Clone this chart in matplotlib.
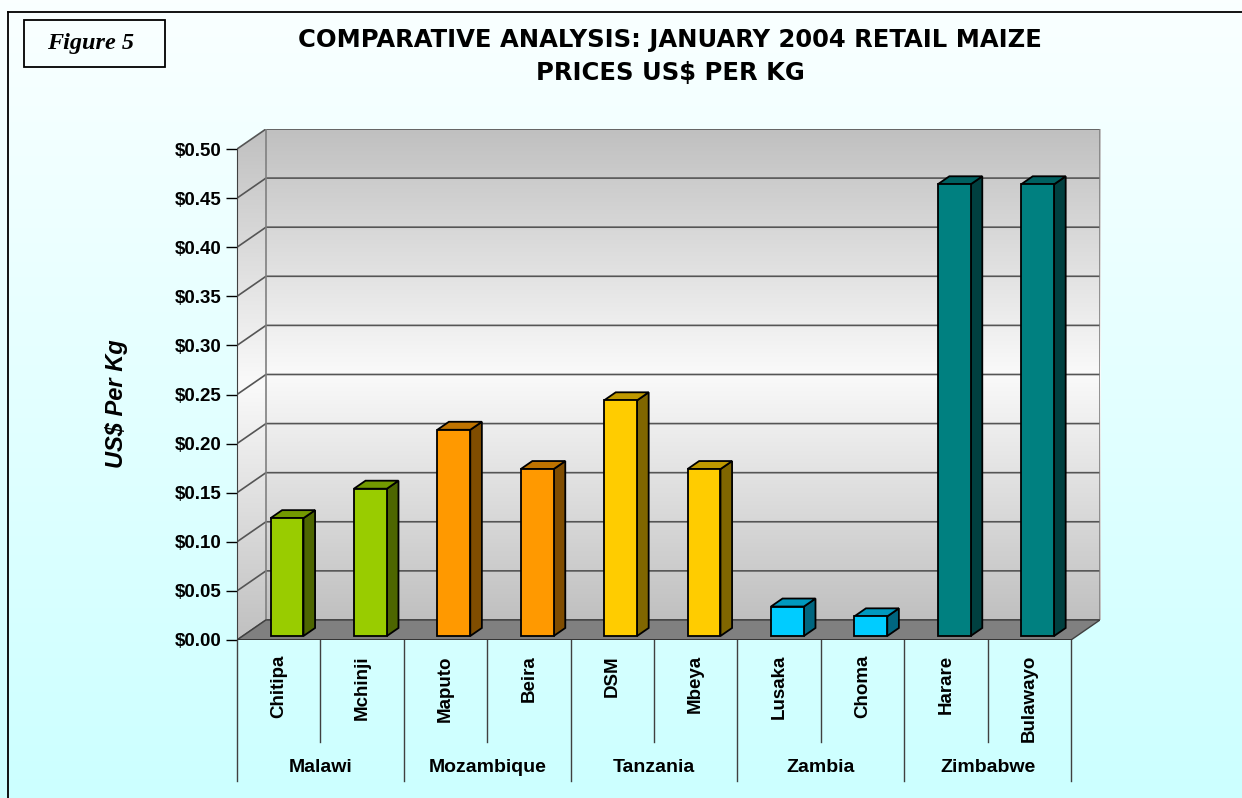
import numpy as np
import matplotlib.pyplot as plt
from matplotlib.patches import Polygon, Rectangle
from matplotlib.colors import to_rgb, LinearSegmentedColormap
from matplotlib.ticker import FuncFormatter

plt.rcParams['font.family'] = ['Liberation Sans', 'DejaVu Sans']

# data
cities = ["Chitipa", "Mchinji", "Maputo", "Beira", "DSM", "Mbeya",
          "Lusaka", "Choma", "Harare", "Bulawayo"]
countries = ["Malawi", "Mozambique", "Tanzania", "Zambia", "Zimbabwe"]
prices = [0.12, 0.15, 0.21, 0.17, 0.24, 0.17, 0.03, 0.02, 0.46, 0.46]
country_colors = ["#99CC00", "#FF9900", "#FFCC00", "#00CCFF", "#008080"]
cities_per_country = 2
y_ticks = np.arange(0, 0.501, 0.05)

W, H = 1242, 798
fig = plt.figure(figsize=(W / 100, H / 100), dpi=100)

# figure background gradient
bg = fig.add_axes([0, 0, 1, 1], zorder=-10)
bg.axis('off')
grad = np.linspace(0, 1, 256).reshape(-1, 1)
bg_cmap = LinearSegmentedColormap.from_list('bg', ['#FAFFFF', '#CCFFFF'])
bg.imshow(grad, cmap=bg_cmap, aspect='auto', extent=[0, 1, 0, 1])
bg.set_xlim(0, 1)
bg.set_ylim(0, 1)
bg.plot([8 / W, 8 / W], [0, 1 - 12 / H], color='black', lw=1.3)
bg.plot([8 / W, 1], [1 - 12 / H, 1 - 12 / H], color='black', lw=1.3)
bg.add_patch(Rectangle((24 / W, 1 - 67 / H), 141 / W, 47 / H, fill=False,
                       ec='black', lw=1.3))
bg.text(91 / W, 1 - 44 / H, "Figure 5", family='Liberation Serif',
        weight='bold', style='italic', size=17.5, ha='center', va='center')

fig.text(670 / W, 1 - 40 / H, "COMPARATIVE ANALYSIS: JANUARY 2004 RETAIL MAIZE",
         ha='center', va='center', size=17.5, weight='bold', family='DejaVu Sans')
fig.text(670 / W, 1 - 73 / H, "PRICES US$ PER KG",
         ha='center', va='center', size=17.5, weight='bold', family='DejaVu Sans')
fig.text(117 / W, 1 - 404 / H, "US$ Per Kg", rotation=90, ha='center',
         va='center', size=17, weight='bold', style='italic')

# main axes (front plane = categories x values)
n = len(cities)
DX = 0.3475   # depth offset in category units
DY = 0.0204   # depth offset in value units
ax = fig.add_axes([237 / W, (H - 640) / H, 863 / W, 511 / H])
ax.patch.set_visible(False)

wall_cmap = LinearSegmentedColormap.from_list('wall', ['#C0C0C0', '#FAFAFA', '#C0C0C0'])
ax.imshow(grad, cmap=wall_cmap, aspect='auto', extent=[DX, n + DX, DY, 0.5 + DY], zorder=0)
im = ax.imshow(grad, cmap=wall_cmap, aspect='auto', extent=[0, DX, 0, 0.5 + DY], zorder=0)
im.set_clip_path(Polygon([(0, 0), (DX, DY), (DX, 0.5 + DY), (0, 0.5)],
                         transform=ax.transData))

for v in y_ticks:
    ax.plot([0, DX, n + DX], [v, v + DY, v + DY], color='#555555', lw=1.2, zorder=1)
ax.plot([DX, DX], [DY, 0.5 + DY], color='#808080', lw=1.2, zorder=1)
ax.plot([n + DX, n + DX], [DY, 0.5 + DY], color='#808080', lw=1.2, zorder=1)

ax.add_patch(Polygon([(0, 0), (n, 0), (n + DX, DY), (DX, DY)], fc='#808080',
                     ec='#404040', lw=1, zorder=2))
ax.plot([0, n], [0, 0], color='#303030', lw=1.2, zorder=3)

# bars
bw = 0.395
f0, f1 = 0.2, 0.6
d = f1 - f0
for i, v in enumerate(prices):
    c = np.array(to_rgb(country_colors[i // cities_per_country]))
    x0 = i + 0.5 - bw / 2 + f0 * DX + 0.03
    y0 = f0 * DY
    ax.add_patch(Polygon([(x0 + bw, y0), (x0 + bw + d * DX, y0 + d * DY),
                          (x0 + bw + d * DX, y0 + v + d * DY), (x0 + bw, y0 + v)],
                         fc=c * 0.5, ec='black', lw=1.3, zorder=5))
    ax.add_patch(Polygon([(x0, y0 + v), (x0 + bw, y0 + v),
                          (x0 + bw + d * DX, y0 + v + d * DY), (x0 + d * DX, y0 + v + d * DY)],
                         fc=c * 0.75, ec='black', lw=1.3, zorder=5))
    ax.add_patch(Rectangle((x0, y0), bw, v, fc=c, ec='black', lw=1.3, zorder=6))

ax.set_xlim(0, n + DX)
ax.set_ylim(0, 0.5 + DY)
for s in ['top', 'right', 'bottom']:
    ax.spines[s].set_visible(False)
ax.spines['left'].set_bounds(0, 0.5)
ax.spines['left'].set_color('#404040')
ax.set_xticks([])
ax.set_yticks(y_ticks)
ax.yaxis.set_major_formatter(FuncFormatter(lambda v, p: f"${v:.2f}"))
ax.tick_params(axis='y', length=8, width=1, pad=3, labelsize=13.5)
for lbl in ax.get_yticklabels():
    lbl.set_fontweight('bold')

# category labels and separators
trans = ax.get_xaxis_transform()
for i, city in enumerate(cities):
    ax.text(i + 0.5, -15 / 511, city, rotation=90, ha='center', va='top',
            transform=trans, fontsize=13.5, weight='bold')
for i in range(n + 1):
    low = -141 / 511 if i % cities_per_country == 0 else -102 / 511
    ax.plot([i, i], [0, low], transform=trans, color='#404040', lw=1, clip_on=False)
for g, name in enumerate(countries):
    ax.text(g * cities_per_country + cities_per_country / 2, -128 / 511, name,
            ha='center', va='center', transform=trans, fontsize=14, weight='bold')

fig.savefig("out.png", dpi=100)
